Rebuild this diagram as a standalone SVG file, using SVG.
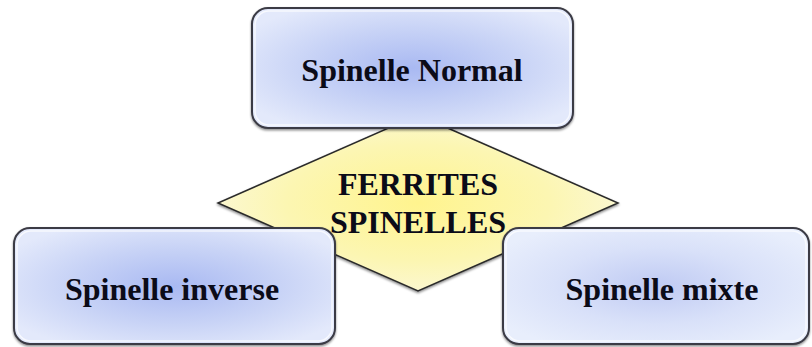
<svg xmlns="http://www.w3.org/2000/svg" width="812" height="347" viewBox="0 0 812 347">
  <defs>
    <radialGradient id="boxGrad" cx="50%" cy="50%" r="60%">
      <stop offset="0" stop-color="#a9b9f2"/>
      <stop offset="0.55" stop-color="#c8d3f6"/>
      <stop offset="1" stop-color="#e3e9fb"/>
    </radialGradient>
    <radialGradient id="boxGrad2" cx="50%" cy="50%" r="60%">
      <stop offset="0" stop-color="#bfcaf3"/>
      <stop offset="0.55" stop-color="#d9e1f9"/>
      <stop offset="1" stop-color="#e8eefc"/>
    </radialGradient>
    <radialGradient id="diaGrad" cx="50%" cy="50%" r="55%">
      <stop offset="0" stop-color="#fff48e"/>
      <stop offset="0.6" stop-color="#fcf6b2"/>
      <stop offset="1" stop-color="#fbf8d8"/>
    </radialGradient>
    <filter id="shade" x="-5%" y="-5%" width="110%" height="115%">
      <feDropShadow dx="0" dy="1.5" stdDeviation="1.2" flood-color="#000" flood-opacity="0.45"/>
    </filter>
  </defs>
  <style>
    .box { stroke: #3b3b45; stroke-width: 2; filter: url(#shade); }
    .hl { fill: none; stroke: #ffffff; stroke-opacity: 0.7; stroke-width: 1.5; }
    .lbl { font-family: "Liberation Serif", "Times New Roman", serif; font-weight: bold; font-size: 32px; fill: #0b0b18; text-anchor: middle; }
  </style>
  <rect width="812" height="347" fill="#ffffff"/>

  <g id="node-ferrites">
    <polygon points="418,115 618,203 418,291 218,203" fill="url(#diaGrad)" stroke="#2a2a2a" stroke-width="1.5" filter="url(#shade)"/>
  </g>

  <g id="node-normal">
    <rect class="box" x="252" y="8" width="321" height="120" rx="16" fill="url(#boxGrad)"/>
    <rect class="hl" x="255" y="11" width="315" height="114" rx="14"/>
    <text class="lbl" x="412" y="81">Spinelle Normal</text>
  </g>

  <g id="node-inverse">
    <rect class="box" x="14" y="228" width="321" height="116" rx="16" fill="url(#boxGrad)"/>
    <rect class="hl" x="17" y="231" width="315" height="110" rx="14"/>
    <text class="lbl" x="172" y="300">Spinelle inverse</text>
  </g>

  <g id="node-mixte">
    <rect class="box" x="503" y="228" width="306" height="116" rx="16" fill="url(#boxGrad2)"/>
    <rect class="hl" x="506" y="231" width="300" height="110" rx="14"/>
    <text class="lbl" x="662" y="300">Spinelle mixte</text>
  </g>

  <g id="node-ferrites-label">
    <text class="lbl" x="418" y="195">FERRITES</text>
    <text class="lbl" x="418" y="233">SPINELLES</text>
  </g>
</svg>
